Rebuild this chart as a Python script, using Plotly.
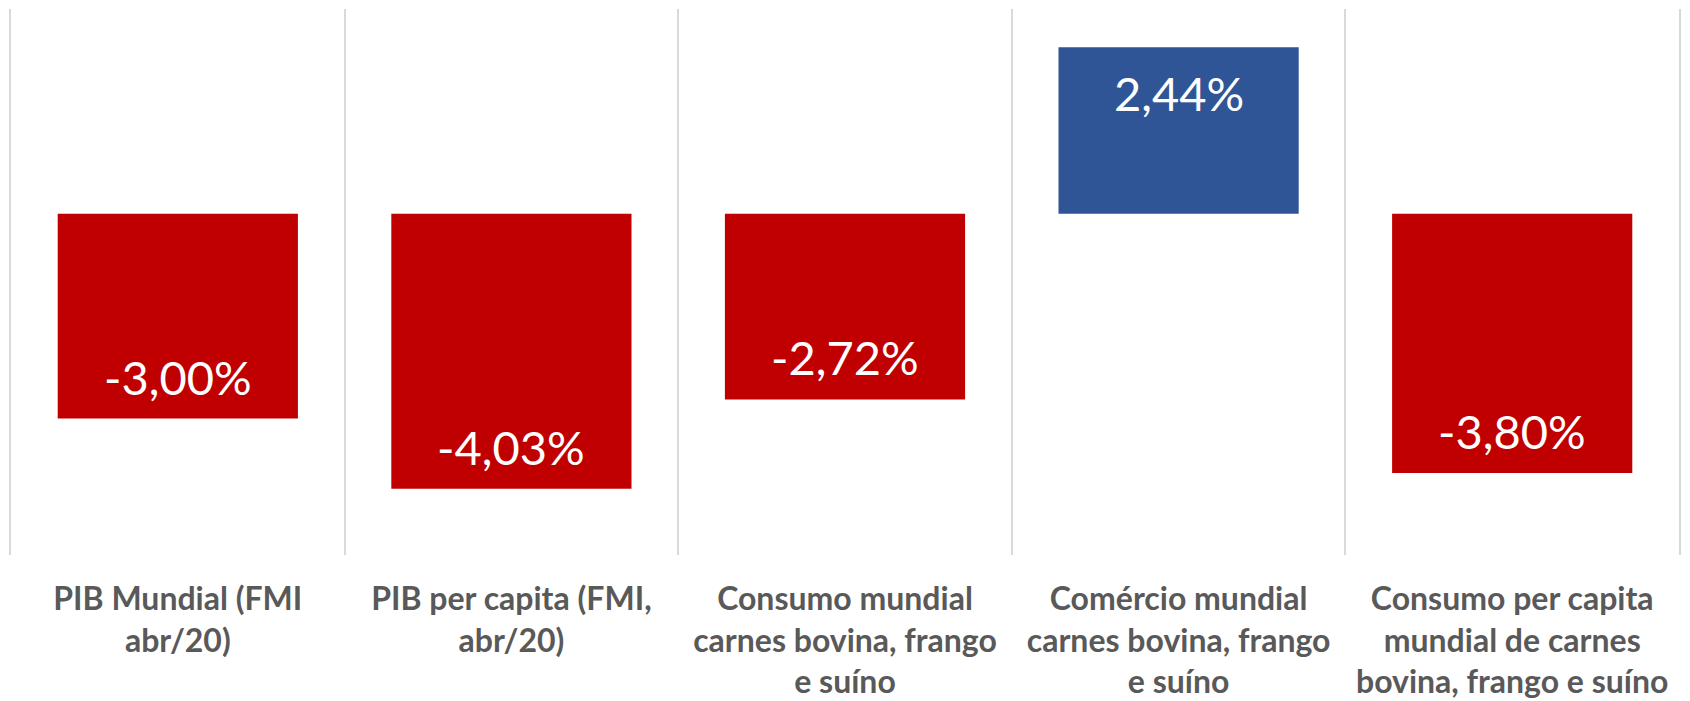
import plotly.graph_objects as go

categories = [
    "PIB Mundial (FMI<br>abr/20)",
    "PIB per capita (FMI,<br>abr/20)",
    "Consumo mundial<br>carnes bovina, frango<br>e suíno",
    "Comércio mundial<br>carnes bovina, frango<br>e suíno",
    "Consumo per capita<br>mundial de carnes<br>bovina, frango e suíno",
]
values = [-3.00, -4.03, -2.72, 2.44, -3.80]
value_labels = ["-3,00%", "-4,03%", "-2,72%", "2,44%", "-3,80%"]

RED = "#C00000"
BLUE = "#2F5597"
GRID = "#D9D9D9"
colors = [BLUE if v > 0 else RED for v in values]

fig = go.Figure()

fig.add_trace(go.Bar(
    x=categories,
    y=values,
    marker=dict(color=colors, line=dict(width=0)),
    hoverinfo="skip",
))

# value labels sit near the far end of each bar
for cat, val, lab in zip(categories, values, value_labels):
    fig.add_annotation(
        x=cat, y=val, text=lab, showarrow=False,
        yshift=42 if val < 0 else -46,
        font=dict(family="Lato", size=47, color="white"),
    )

fig.update_layout(
    width=1690,
    height=701,
    margin=dict(l=11, r=11, t=9, b=146),
    plot_bgcolor="white",
    paper_bgcolor="white",
    bargap=0.28,
    showlegend=False,
    xaxis=dict(
        tickson="boundaries",
        showgrid=True,
        gridcolor=GRID,
        gridwidth=2,
        ticks="",
        showline=False,
        zeroline=False,
        automargin=False,
        ticklabelstandoff=22,
        tickfont=dict(family="Lato", size=32, color="#595959", weight="bold"),
    ),
    # y axis only supplies the outer vertical rules
    yaxis=dict(
        range=[-5, 3],
        showticklabels=False,
        showgrid=False,
        zeroline=False,
        showline=True,
        mirror=True,
        linecolor=GRID,
        linewidth=2,
        automargin=False,
    ),
)

# drop the default 8px page margin so the figure fills the window exactly
fig.write_html(
    "out.html",
    config={"displayModeBar": False},
    post_script="document.body.style.margin='0';",
)
